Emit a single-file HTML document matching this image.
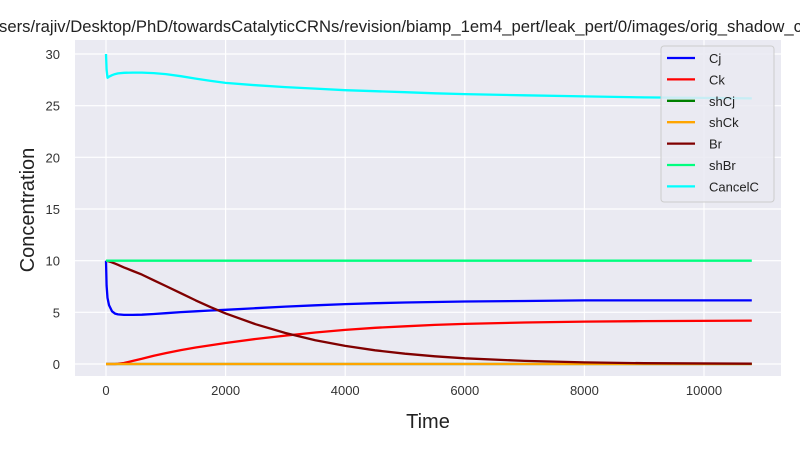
<!DOCTYPE html>
<html><head><meta charset="utf-8"><style>
body{margin:0;background:#fff;}
svg text{font-family:"Liberation Sans",sans-serif;}
</style></head><body>
<svg id="c" width="800" height="450" xmlns="http://www.w3.org/2000/svg">
<text x="-1" y="32" textLength="803" lengthAdjust="spacingAndGlyphs" font-size="16.5" fill="#222">sers/rajiv/Desktop/PhD/towardsCatalyticCRNs/revision/biamp_1em4_pert/leak_pert/0/images/orig_shadow_c</text>
<rect x="75" y="40" width="706" height="336" fill="#eaeaf2"/>
<g id="grid"></g><g id="lines"></g>
<text x="428" y="428" text-anchor="middle" font-size="20" fill="#222">Time</text>
<text transform="translate(34,210) rotate(-90)" text-anchor="middle" font-size="20" fill="#222">Concentration</text>
<g id="legend"></g>
</svg>
<script>
const xTicks=[0,2000,4000,6000,8000,10000];
const yTicks=[0,5,10,15,20,25,30];
const seriesNames=["Cj","Ck","shCj","shCk","Br","shBr","CancelC"];
const seriesColors=["#0000ff","#ff0000","#008000","#ffa500","#800000","#00ff7f","#00ffff"];
const times=[0,10,25,50,100,150,200,300,450,600,800,1000,1250,1500,1750,2000,2500,3000,3500,4000,4500,5000,5500,6000,7000,8000,9000,10800];
const cj=[10,7.6,6.4,5.7,5.1,4.88,4.8,4.75,4.75,4.77,4.84,4.92,5.02,5.1,5.18,5.25,5.4,5.55,5.68,5.8,5.88,5.95,6.0,6.05,6.1,6.15,6.15,6.15];
const ck=[0,0,0,0,0,0,0.02,0.1,0.3,0.5,0.8,1.05,1.35,1.6,1.82,2.03,2.42,2.75,3.05,3.3,3.5,3.65,3.78,3.88,4.02,4.1,4.15,4.2];
const shcj=[0,0,0,0,0,0,0,0,0,0,0,0,0,0,0,0,0,0,0,0,0,0,0,0,0,0,0,0];
const shck=[0,0,0,0,0,0,0,0,0,0,0,0,0,0,0,0,0,0,0,0,0,0,0,0,0,0,0,0];
const br=[10,10,9.97,9.93,9.83,9.72,9.6,9.35,9.0,8.65,8.1,7.55,6.85,6.15,5.5,4.9,3.85,3.0,2.3,1.75,1.33,1.0,0.75,0.55,0.3,0.15,0.08,0.03];
const shbr=[10,10,10,10,10,10,10,10,10,10,10,10,10,10,10,10,10,10,10,10,10,10,10,10,10,10,10,10];
const cancel=[30,28.5,27.7,27.8,27.95,28.05,28.12,28.18,28.2,28.2,28.15,28.05,27.85,27.62,27.4,27.2,26.98,26.8,26.65,26.5,26.4,26.3,26.2,26.12,26.0,25.9,25.8,25.7];
const allSeries=[cj,ck,shcj,shck,br,shbr,cancel];
const NS="http://www.w3.org/2000/svg";
const X=v=>106+v*(704-106)/10000;
const Y=v=>364-v*(364-54)/30;
function mk(t,a,p){const e=document.createElementNS(NS,t);for(const k in a)e.setAttribute(k,a[k]);p.appendChild(e);return e;}
const grid=document.getElementById('grid'),svg=document.getElementById('c');
xTicks.forEach(t=>{const l=mk('line',{x1:X(t),x2:X(t),y1:40,y2:376,stroke:'#fff','stroke-width':1.2},grid);


const tx=mk('text',{x:X(t),y:395,'text-anchor':'middle','font-size':13,fill:'#333'},svg);tx.textContent=t;

});
yTicks.forEach(t=>{const l=mk('line',{x1:75,x2:781,y1:Y(t),y2:Y(t),stroke:'#fff','stroke-width':1.2},grid);


const tx=mk('text',{x:60,y:Y(t)+5,'text-anchor':'end','font-size':13,fill:'#333'},svg);tx.textContent=t;

});
const lines=document.getElementById('lines');
allSeries.forEach((s,i)=>{const d=s.map((v,j)=>(j?'L':'M')+X(times[j]).toFixed(1)+','+Y(v).toFixed(1)).join('');
const p=mk('path',{d:d,fill:'none',stroke:seriesColors[i],'stroke-width':2.3,'stroke-linejoin':'round'},lines);

});
const lg=document.getElementById('legend');
const box=mk('rect',{x:661,y:46,width:113,height:156,rx:3,fill:'#eaeaf2',stroke:'#ccc','fill-opacity':0.85},lg);


seriesNames.forEach((n,i)=>{const y=58+i*21.4;
const l=mk('line',{x1:667,x2:695,y1:y,y2:y,stroke:seriesColors[i],'stroke-width':2.3},lg);


const t=mk('text',{x:709,y:y+5,'font-size':13,fill:'#222'},lg);t.textContent=n;

});
</script>
</body></html>
